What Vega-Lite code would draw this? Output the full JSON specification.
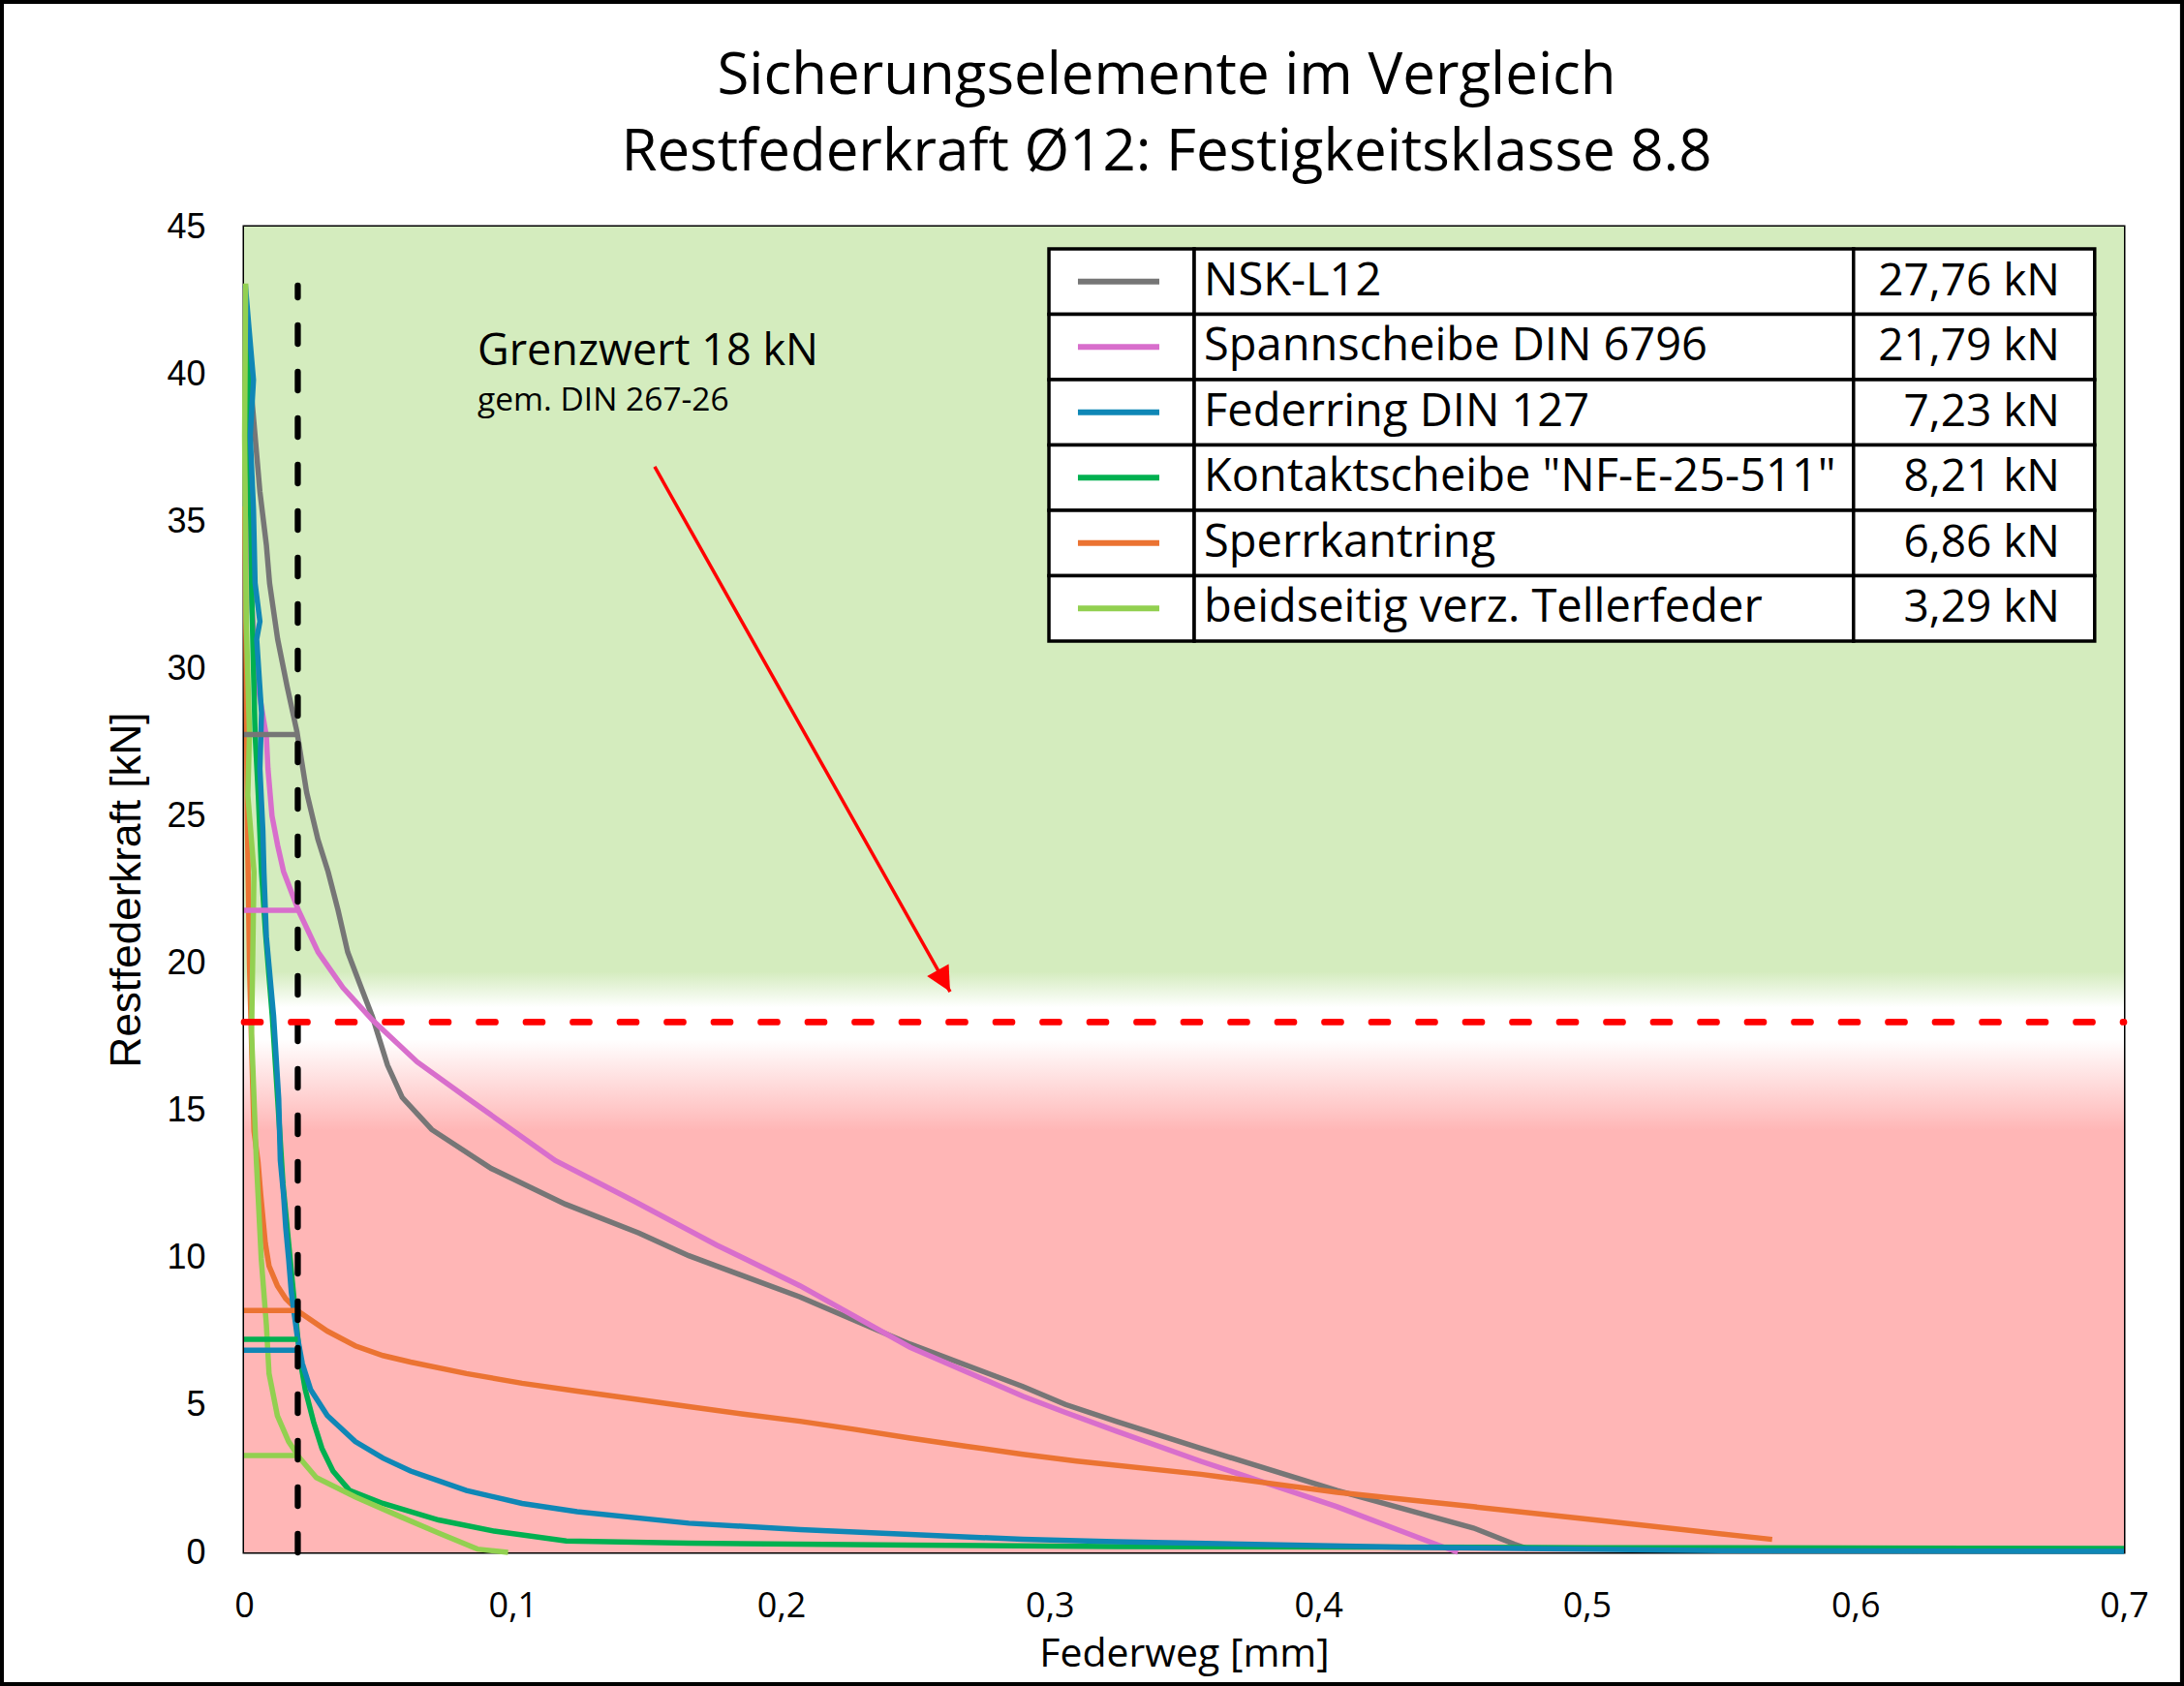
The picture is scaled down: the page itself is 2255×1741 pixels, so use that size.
{
  "$schema": "https://vega.github.io/schema/vega-lite/v6.json",
  "width": 1941,
  "height": 1369,
  "autosize": "none",
  "padding": {"left": 252, "top": 234, "right": 62, "bottom": 138},
  "background": "white",
  "title": {
    "text": ["Sicherungselemente im Vergleich", "Restfederkraft Ø12: Festigkeitsklasse 8.8"],
    "font": "Open Sans",
    "fontSize": 60,
    "fontWeight": "normal",
    "color": "black",
    "anchor": "middle",
    "frame": "group",
    "dx": -18,
    "lineHeight": 79,
    "offset": -193
  },
  "config": {
    "view": {"stroke": "black", "strokeWidth": 3},
    "axis": {"domain": false, "ticks": false, "grid": false, "labelColor": "black", "titleColor": "black", "titleFontWeight": "normal", "labelOverlap": false, "labelFlush": false},
    "axisX": {"labelFont": "Open Sans", "labelFontSize": 36, "labelPadding": 38, "titleFont": "Open Sans", "titleFontSize": 41, "titlePadding": 12},
    "axisY": {"labelFont": "Liberation Sans", "labelFontSize": 36, "labelPadding": 40, "titleFont": "Liberation Sans", "titleFontSize": 44, "titlePadding": 18}
  },
  "datasets": {
    "nsk": [
      {"x": 0.001, "y": 42.0}, {"x": 0.0015, "y": 41.0}, {"x": 0.0023, "y": 39.8}, {"x": 0.0041, "y": 37.9},
      {"x": 0.0059, "y": 36.0}, {"x": 0.0083, "y": 34.2}, {"x": 0.0095, "y": 32.9}, {"x": 0.0125, "y": 31.0},
      {"x": 0.016, "y": 29.4}, {"x": 0.0197, "y": 27.85}, {"x": 0.0233, "y": 25.8}, {"x": 0.0275, "y": 24.2},
      {"x": 0.0313, "y": 23.1}, {"x": 0.035, "y": 21.8}, {"x": 0.0386, "y": 20.37}, {"x": 0.0432, "y": 19.27},
      {"x": 0.0478, "y": 18.18}, {"x": 0.0534, "y": 16.54}, {"x": 0.0589, "y": 15.44}, {"x": 0.0699, "y": 14.35},
      {"x": 0.092, "y": 13.03}, {"x": 0.1196, "y": 11.82}, {"x": 0.147, "y": 10.84}, {"x": 0.1656, "y": 10.07},
      {"x": 0.176, "y": 9.72}, {"x": 0.207, "y": 8.67}, {"x": 0.248, "y": 7.07}, {"x": 0.29, "y": 5.63},
      {"x": 0.3058, "y": 5.02}, {"x": 0.3246, "y": 4.45}, {"x": 0.3563, "y": 3.53}, {"x": 0.407, "y": 2.1},
      {"x": 0.4577, "y": 0.83}, {"x": 0.473, "y": 0.28}, {"x": 0.478, "y": 0.12}
    ],
    "spann": [
      {"x": 0.0008, "y": 41.0}, {"x": 0.0012, "y": 38.0}, {"x": 0.002, "y": 35.0}, {"x": 0.003, "y": 32.0},
      {"x": 0.005, "y": 29.5}, {"x": 0.0083, "y": 27.7}, {"x": 0.0089, "y": 26.6}, {"x": 0.0104, "y": 25.0},
      {"x": 0.0125, "y": 24.0}, {"x": 0.0147, "y": 23.11}, {"x": 0.0202, "y": 21.8}, {"x": 0.0276, "y": 20.37},
      {"x": 0.0368, "y": 19.17}, {"x": 0.0478, "y": 18.07}, {"x": 0.0644, "y": 16.65}, {"x": 0.0828, "y": 15.44},
      {"x": 0.1159, "y": 13.3}, {"x": 0.145, "y": 11.93}, {"x": 0.176, "y": 10.43}, {"x": 0.207, "y": 9.05},
      {"x": 0.248, "y": 6.96}, {"x": 0.29, "y": 5.3}, {"x": 0.3058, "y": 4.75}, {"x": 0.3246, "y": 4.12},
      {"x": 0.3563, "y": 3.09}, {"x": 0.407, "y": 1.55}, {"x": 0.4437, "y": 0.28}, {"x": 0.452, "y": 0.0}
    ],
    "sperr": [
      {"x": 0.0003, "y": 35.5}, {"x": 0.0008, "y": 30.0}, {"x": 0.0012, "y": 25.0}, {"x": 0.002, "y": 20.0},
      {"x": 0.003, "y": 16.5}, {"x": 0.0037, "y": 14.3}, {"x": 0.0052, "y": 13.25}, {"x": 0.0062, "y": 12.15},
      {"x": 0.0079, "y": 10.5}, {"x": 0.0093, "y": 9.72}, {"x": 0.0124, "y": 9.05}, {"x": 0.0155, "y": 8.61},
      {"x": 0.0207, "y": 8.15}, {"x": 0.031, "y": 7.51}, {"x": 0.0414, "y": 7.01}, {"x": 0.0517, "y": 6.68},
      {"x": 0.062, "y": 6.46}, {"x": 0.0828, "y": 6.07}, {"x": 0.1035, "y": 5.74}, {"x": 0.124, "y": 5.47},
      {"x": 0.145, "y": 5.21}, {"x": 0.1656, "y": 4.95}, {"x": 0.186, "y": 4.69}, {"x": 0.207, "y": 4.45},
      {"x": 0.2277, "y": 4.17}, {"x": 0.248, "y": 3.88}, {"x": 0.269, "y": 3.6}, {"x": 0.29, "y": 3.33},
      {"x": 0.31, "y": 3.1}, {"x": 0.3563, "y": 2.65}, {"x": 0.407, "y": 2.04}, {"x": 0.4577, "y": 1.55},
      {"x": 0.508, "y": 1.05}, {"x": 0.569, "y": 0.44}
    ],
    "kontakt": [
      {"x": 0.0008, "y": 42.0}, {"x": 0.0015, "y": 40.0}, {"x": 0.002, "y": 37.0}, {"x": 0.0025, "y": 35.0},
      {"x": 0.0029, "y": 32.3}, {"x": 0.0041, "y": 27.8}, {"x": 0.0053, "y": 25.7}, {"x": 0.0065, "y": 23.1},
      {"x": 0.008, "y": 21.0}, {"x": 0.0105, "y": 18.2}, {"x": 0.0125, "y": 15.4}, {"x": 0.0145, "y": 12.5},
      {"x": 0.0166, "y": 10.49}, {"x": 0.0186, "y": 8.61}, {"x": 0.0207, "y": 6.63}, {"x": 0.0228, "y": 5.52},
      {"x": 0.0259, "y": 4.42}, {"x": 0.029, "y": 3.53}, {"x": 0.0331, "y": 2.76}, {"x": 0.0393, "y": 2.1},
      {"x": 0.0517, "y": 1.66}, {"x": 0.0724, "y": 1.1}, {"x": 0.0931, "y": 0.72}, {"x": 0.12, "y": 0.39},
      {"x": 0.1656, "y": 0.31}, {"x": 0.248, "y": 0.25}, {"x": 0.3246, "y": 0.2}, {"x": 0.5, "y": 0.16},
      {"x": 0.7, "y": 0.13}
    ],
    "feder": [
      {"x": 0.0005, "y": 43.0}, {"x": 0.0017, "y": 41.7}, {"x": 0.0035, "y": 39.8}, {"x": 0.0023, "y": 37.9},
      {"x": 0.0035, "y": 35.4}, {"x": 0.0041, "y": 32.9}, {"x": 0.0059, "y": 31.6}, {"x": 0.0047, "y": 31.0},
      {"x": 0.0065, "y": 28.5}, {"x": 0.0059, "y": 26.6}, {"x": 0.007, "y": 24.5}, {"x": 0.0074, "y": 23.1},
      {"x": 0.0083, "y": 20.9}, {"x": 0.011, "y": 18.2}, {"x": 0.0129, "y": 15.4}, {"x": 0.0135, "y": 13.3},
      {"x": 0.0147, "y": 12.15}, {"x": 0.0155, "y": 11.04}, {"x": 0.0166, "y": 9.96}, {"x": 0.0176, "y": 8.83},
      {"x": 0.0197, "y": 7.4}, {"x": 0.0217, "y": 6.41}, {"x": 0.0248, "y": 5.52}, {"x": 0.031, "y": 4.64},
      {"x": 0.0414, "y": 3.76}, {"x": 0.0517, "y": 3.2}, {"x": 0.062, "y": 2.76}, {"x": 0.0828, "y": 2.1},
      {"x": 0.1035, "y": 1.66}, {"x": 0.124, "y": 1.38}, {"x": 0.1656, "y": 0.99}, {"x": 0.207, "y": 0.77},
      {"x": 0.248, "y": 0.61}, {"x": 0.29, "y": 0.44}, {"x": 0.3246, "y": 0.36}, {"x": 0.433, "y": 0.17},
      {"x": 0.55, "y": 0.06}, {"x": 0.7, "y": 0.03}
    ],
    "teller": [
      {"x": 0.0006, "y": 43.07}, {"x": 0.0002, "y": 37.9}, {"x": 0.0008, "y": 31.6}, {"x": 0.002, "y": 27.8},
      {"x": 0.0014, "y": 25.7}, {"x": 0.0037, "y": 23.1}, {"x": 0.0028, "y": 17.6}, {"x": 0.0046, "y": 13.25},
      {"x": 0.0064, "y": 9.96}, {"x": 0.0083, "y": 7.73}, {"x": 0.0093, "y": 6.07}, {"x": 0.0124, "y": 4.64},
      {"x": 0.0166, "y": 3.76}, {"x": 0.0207, "y": 3.2}, {"x": 0.0269, "y": 2.54}, {"x": 0.0414, "y": 1.88},
      {"x": 0.058, "y": 1.22}, {"x": 0.0724, "y": 0.66}, {"x": 0.0869, "y": 0.11}, {"x": 0.0983, "y": 0.0}
    ],
    "marker": [
      {"name": "NSK-L12", "f": 27.76},
      {"name": "Spannscheibe DIN 6796", "f": 21.79},
      {"name": "Sperrkantring", "f": 8.21},
      {"name": "Kontaktscheibe \"NF-E-25-511\"", "f": 7.23},
      {"name": "Federring DIN 127", "f": 6.86},
      {"name": "beidseitig verz. Tellerfeder", "f": 3.29}
    ],
    "legend": [
      {"row": 1, "name": "NSK-L12", "value": "27,76 kN"},
      {"row": 2, "name": "Spannscheibe DIN 6796", "value": "21,79 kN"},
      {"row": 3, "name": "Federring DIN 127", "value": "7,23 kN"},
      {"row": 4, "name": "Kontaktscheibe \"NF-E-25-511\"", "value": "8,21 kN"},
      {"row": 5, "name": "Sperrkantring", "value": "6,86 kN"},
      {"row": 6, "name": "beidseitig verz. Tellerfeder", "value": "3,29 kN"}
    ],
    "arrow": [
      {"x0": 0.1529, "y0": 36.85, "x1": 0.2629, "y1": 19.03}
    ],
    "notes": [
      {"text": "Grenzwert 18 kN", "x": 0.0869, "y": 40.3, "size": "big"},
      {"text": "gem. DIN 267-26", "x": 0.0869, "y": 38.75, "size": "small"}
    ]
  },
  "layer": [
    {
      "layer": [
        {
          "data": {"values": [{}]},
          "mark": {
            "type": "rect",
            "fill": {
              "gradient": "linear", "x1": 0, "y1": 0, "x2": 0, "y2": 1,
              "stops": [
                {"offset": 0, "color": "#D4ECBE"},
                {"offset": 0.562, "color": "#D4ECBE"},
                {"offset": 0.589, "color": "#FFFFFF"},
                {"offset": 0.613, "color": "#FFFFFF"},
                {"offset": 0.682, "color": "#FFB6B6"},
                {"offset": 1, "color": "#FFB6B6"}
              ]
            }
          },
          "encoding": {
            "x": {
              "datum": 0, "type": "quantitative",
              "scale": {"domain": [0, 0.7], "nice": false, "zero": false},
              "axis": {
                "title": "Federweg [mm]",
                "values": [0, 0.1, 0.2, 0.3, 0.4, 0.5, 0.6, 0.7],
                "labelExpr": "datum.value == 0 ? '0' : replace(format(datum.value, '.1f'), '.', ',')"
              }
            },
            "x2": {"datum": 0.7},
            "y": {
              "datum": 0, "type": "quantitative",
              "scale": {"domain": [0, 45], "nice": false, "zero": false},
              "axis": {"title": "Restfederkraft [kN]", "values": [0, 5, 10, 15, 20, 25, 30, 35, 40, 45]}
            },
            "y2": {"datum": 45}
          }
        },
        {
          "data": {"name": "nsk"},
          "mark": {"type": "line", "strokeWidth": 5.5},
          "encoding": {
            "x": {"field": "x", "type": "quantitative", "title": "Federweg [mm]"},
            "y": {"field": "y", "type": "quantitative", "title": "Restfederkraft [kN]"},
            "order": {"value": null},
            "color": {"datum": "NSK-L12", "type": "nominal", "legend": null,
              "scale": {"domain": ["NSK-L12", "Spannscheibe DIN 6796", "Federring DIN 127", "Kontaktscheibe \"NF-E-25-511\"", "Sperrkantring", "beidseitig verz. Tellerfeder"],
                        "range": ["#767676", "#D86ECC", "#0F87B6", "#00B050", "#EB7332", "#92D050"]}}
          }
        },
        {
          "data": {"name": "spann"},
          "mark": {"type": "line", "strokeWidth": 5.5},
          "encoding": {
            "x": {"field": "x", "type": "quantitative", "title": "Federweg [mm]"},
            "y": {"field": "y", "type": "quantitative", "title": "Restfederkraft [kN]"},
            "order": {"value": null},
            "color": {"datum": "Spannscheibe DIN 6796", "type": "nominal", "legend": null}
          }
        },
        {
          "data": {"name": "sperr"},
          "mark": {"type": "line", "strokeWidth": 5.5},
          "encoding": {
            "x": {"field": "x", "type": "quantitative", "title": "Federweg [mm]"},
            "y": {"field": "y", "type": "quantitative", "title": "Restfederkraft [kN]"},
            "order": {"value": null},
            "color": {"datum": "Sperrkantring", "type": "nominal", "legend": null}
          }
        },
        {
          "data": {"name": "kontakt"},
          "mark": {"type": "line", "strokeWidth": 5.5},
          "encoding": {
            "x": {"field": "x", "type": "quantitative", "title": "Federweg [mm]"},
            "y": {"field": "y", "type": "quantitative", "title": "Restfederkraft [kN]"},
            "order": {"value": null},
            "color": {"datum": "Kontaktscheibe \"NF-E-25-511\"", "type": "nominal", "legend": null}
          }
        },
        {
          "data": {"name": "feder"},
          "mark": {"type": "line", "strokeWidth": 5.5},
          "encoding": {
            "x": {"field": "x", "type": "quantitative", "title": "Federweg [mm]"},
            "y": {"field": "y", "type": "quantitative", "title": "Restfederkraft [kN]"},
            "order": {"value": null},
            "color": {"datum": "Federring DIN 127", "type": "nominal", "legend": null}
          }
        },
        {
          "data": {"name": "teller"},
          "mark": {"type": "line", "strokeWidth": 5.5},
          "encoding": {
            "x": {"field": "x", "type": "quantitative", "title": "Federweg [mm]"},
            "y": {"field": "y", "type": "quantitative", "title": "Restfederkraft [kN]"},
            "order": {"value": null},
            "color": {"datum": "beidseitig verz. Tellerfeder", "type": "nominal", "legend": null}
          }
        },
        {
          "data": {"name": "marker"},
          "mark": {"type": "rule", "strokeWidth": 5.5},
          "encoding": {
            "x": {"datum": 0},
            "x2": {"datum": 0.02},
            "y": {"field": "f", "type": "quantitative", "title": "Restfederkraft [kN]"},
            "color": {"field": "name", "type": "nominal", "legend": null}
          }
        },
        {
          "data": {"values": [{}]},
          "mark": {"type": "rule", "color": "black", "strokeWidth": 6.3, "strokeDash": [19, 29], "strokeCap": "round"},
          "encoding": {
            "x": {"datum": 0.02},
            "y": {"datum": 0},
            "y2": {"datum": 43}
          }
        },
        {
          "data": {"values": [{}]},
          "mark": {"type": "rule", "color": "#FF0000", "strokeWidth": 6.7, "strokeDash": [17, 31.5], "strokeCap": "round"},
          "encoding": {
            "x": {"datum": 0},
            "x2": {"datum": 0.7},
            "y": {"datum": 18}
          }
        },
        {
          "data": {"name": "arrow"},
          "mark": {"type": "rule", "color": "#FF0000", "strokeWidth": 3.5},
          "encoding": {
            "x": {"field": "x0", "type": "quantitative"},
            "y": {"field": "y0", "type": "quantitative"},
            "x2": {"field": "x1"},
            "y2": {"field": "y1"}
          }
        },
        {
          "data": {"name": "arrow"},
          "mark": {"type": "point", "shape": "M0,0L-0.5,-1L0.5,-1Z", "filled": true, "color": "#FF0000", "opacity": 1, "size": 2640, "angle": 330.6},
          "encoding": {
            "x": {"field": "x1", "type": "quantitative"},
            "y": {"field": "y1", "type": "quantitative"}
          }
        },
        {
          "data": {"name": "notes"},
          "transform": [{"filter": "datum.size == 'big'"}],
          "mark": {"type": "text", "font": "Open Sans", "fontSize": 45, "align": "left", "baseline": "alphabetic", "color": "black"},
          "encoding": {
            "x": {"field": "x", "type": "quantitative"},
            "y": {"field": "y", "type": "quantitative"},
            "text": {"field": "text"}
          }
        },
        {
          "data": {"name": "notes"},
          "transform": [{"filter": "datum.size == 'small'"}],
          "mark": {"type": "text", "font": "Open Sans", "fontSize": 33.5, "align": "left", "baseline": "alphabetic", "color": "black"},
          "encoding": {
            "x": {"field": "x", "type": "quantitative"},
            "y": {"field": "y", "type": "quantitative"},
            "text": {"field": "text"}
          }
        },
        {
          "data": {"values": [{}]},
          "mark": {"type": "rect", "fill": null, "filled": false, "stroke": "black", "strokeWidth": 8},
          "encoding": {
            "x": {"datum": -0.09088},
            "x2": {"datum": 0.72232},
            "y": {"datum": 52.6918},
            "y2": {"datum": -4.536}
          }
        }
      ]
    },
    {
      "data": {"name": "legend"},
      "encoding": {
        "y": {
          "field": "row", "type": "quantitative", "axis": null,
          "scale": {"domain": [0.159, 20.44], "reverse": true, "nice": false, "zero": false}
        }
      },
      "layer": [
        {
          "mark": {"type": "rect", "fill": "white", "stroke": "black", "strokeWidth": 3.5, "height": 67.5},
          "encoding": {"x": {"datum": 0.2997}, "x2": {"datum": 0.3538}}
        },
        {
          "mark": {"type": "rect", "fill": "white", "stroke": "black", "strokeWidth": 3.5, "height": 67.5},
          "encoding": {"x": {"datum": 0.3538}, "x2": {"datum": 0.5993}}
        },
        {
          "mark": {"type": "rect", "fill": "white", "stroke": "black", "strokeWidth": 3.5, "height": 67.5},
          "encoding": {"x": {"datum": 0.5993}, "x2": {"datum": 0.6891}}
        },
        {
          "mark": {"type": "rule", "strokeWidth": 6},
          "encoding": {
            "x": {"datum": 0.3105},
            "x2": {"datum": 0.3408},
            "color": {"field": "name", "type": "nominal", "legend": null}
          }
        },
        {
          "mark": {"type": "text", "font": "Open Sans", "fontSize": 47, "align": "left", "baseline": "middle", "color": "black"},
          "encoding": {"x": {"datum": 0.3574}, "text": {"field": "name"}}
        },
        {
          "mark": {"type": "text", "font": "Open Sans", "fontSize": 46, "align": "right", "baseline": "middle", "color": "black"},
          "encoding": {"x": {"datum": 0.6762}, "text": {"field": "value"}}
        }
      ]
    }
  ],
  "resolve": {"scale": {"y": "independent"}}
}
